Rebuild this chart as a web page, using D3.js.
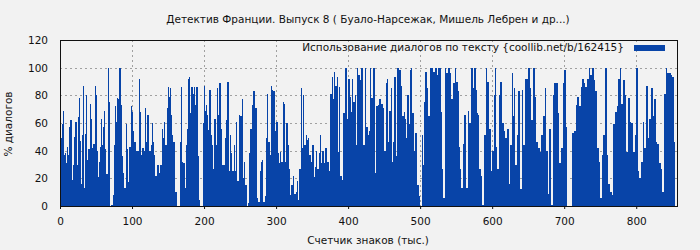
<!DOCTYPE html>
<html>
<head>
<meta charset="utf-8">
<script src="https://cdn.jsdelivr.net/npm/d3@7/dist/d3.min.js"></script>
<style>
  body { margin: 0; background: #f2f2f2; }
  text { font-family: "DejaVu Sans", sans-serif; fill: #111; }
</style>
</head>
<body>
<div id="chart"></div>
<script>
// labels
var chartTitle = "Детектив Франции. Выпуск 8 ( Буало-Нарсежак, Мишель Лебрен и др...)";
var seriesName = "Использование диалогов по тексту {coollib.net/b/162415}";
var xTitle = "Счетчик знаков (тыс.)";
var yTitle = "% диалогов";

// tick labels
var xTicks = [0, 100, 200, 300, 400, 500, 600, 700, 800];
var yTicks = [0, 20, 40, 60, 80, 100, 120];

// share of dialogue per thousand characters
var dialogShare = [
  40,40,49,59,69,69,37,38,38,31,43,37,37,57,62,62,51,19,30,30,50,61,61,41,30,
  64,64,78,47,16,16,51,87,87,13,52,80,80,33,41,41,50,74,63,63,42,45,45,80,87,
  80,80,40,21,32,32,43,63,63,44,57,69,69,41,23,23,67,100,75,75,0,1,1,7,8,
  44,44,72,61,78,78,77,100,100,88,73,36,36,24,13,13,29,59,41,41,17,43,43,43,72,
  68,68,54,46,46,46,40,40,40,72,92,68,68,37,42,42,46,40,71,71,46,66,66,27,40,
  40,40,44,60,46,46,37,22,22,8,30,30,30,24,30,30,33,56,49,49,61,44,44,62,71,
  86,86,79,85,66,66,51,46,46,44,10,10,10,0,0,0,18,46,86,86,32,31,31,18,13,
  44,44,56,92,93,93,67,86,86,67,81,86,86,73,86,86,67,36,4,4,0,0,0,1,60,
  87,87,69,73,66,66,55,84,84,87,51,44,44,27,63,63,51,44,85,85,66,89,89,28,56,
  30,30,49,30,49,49,62,90,90,63,25,51,51,38,25,25,61,44,25,25,61,18,18,39,66,
  65,65,71,77,20,20,32,15,15,2,0,2,2,38,56,56,74,73,83,83,83,71,71,30,6,
  3,3,20,25,32,32,33,3,3,7,7,49,49,81,46,46,43,37,87,87,84,83,83,54,54,
  61,61,39,38,31,31,39,32,32,54,75,74,74,32,60,60,75,44,27,27,8,15,15,28,22,
  9,9,1,10,18,18,4,27,27,22,85,42,42,80,44,44,48,51,48,48,49,37,37,45,32,
  44,44,49,21,28,28,40,27,27,89,38,51,51,31,40,40,27,31,42,42,43,32,32,39,25,
  81,81,21,93,77,77,97,87,87,80,93,39,39,86,22,22,43,19,67,67,77,100,100,72,63,
  92,92,100,79,68,68,92,75,75,63,80,44,44,100,95,95,100,91,100,100,83,44,44,78,100,
  57,57,79,51,54,54,100,78,78,16,100,100,100,24,72,72,46,73,77,77,79,74,74,54,71,
  40,40,42,89,92,92,46,69,69,100,85,32,32,46,93,93,55,36,100,100,65,98,98,100,87,
  65,65,20,68,63,63,49,80,80,43,59,98,98,100,67,67,72,40,53,53,21,15,15,18,7,
  0,0,20,51,30,30,75,97,97,100,85,65,65,30,100,100,68,100,97,97,68,100,100,91,95,
  100,100,100,100,68,68,27,6,6,25,100,96,96,100,100,100,90,96,77,77,86,89,89,92,100,
  90,90,75,83,43,43,27,13,13,25,45,66,66,37,13,13,10,69,60,60,92,100,100,100,85,
  100,100,93,84,67,67,66,27,27,56,22,1,1,27,51,51,79,100,90,90,72,56,56,42,25,
  40,40,51,80,100,100,43,27,27,59,80,90,90,62,60,60,75,54,49,49,24,56,56,27,16,
  44,44,59,96,65,65,85,30,30,93,51,83,83,46,12,12,66,84,44,44,50,92,92,100,92,
  100,100,77,85,62,62,37,100,100,93,79,46,46,54,42,42,57,39,51,51,40,65,65,40,85,
  40,40,27,9,56,56,1,1,1,1,80,89,89,27,89,89,55,67,31,31,60,42,42,87,89,
  98,98,79,57,0,0,0,0,0,0,0,53,53,63,54,54,62,73,79,79,67,72,72,69,86,
  92,92,78,89,86,86,74,92,92,80,100,95,95,100,100,100,97,91,83,83,61,42,42,49,32,
  6,6,16,37,51,51,100,100,100,46,37,16,16,4,10,10,39,8,59,59,67,68,68,90,72,
  92,92,80,100,74,74,51,91,91,51,80,39,39,39,78,78,68,61,60,60,56,39,39,51,81,
  100,100,67,25,20,20,4,32,32,42,61,42,42,62,87,87,39,49,63,63,87,85,85,65,42,
  77,77,74,46,45,45,32,31,31,13,27,10,10,46,81,81,100,100,96,96,100,96,96,95,95,
  93,93,90,46
];

var visualize = function() {
  var barColor = "#0844a8";
  var fontSize = "10.5px";

  // boilerplate setup
  var margin = { top: 40, right: 22, bottom: 44, left: 60 },
     width = 700 - margin.left - margin.right,
     height = 250 - margin.top - margin.bottom;

  var svg = d3.select("#chart")
    .append("svg")
    .attr("width", 700)
    .attr("height", 250)
    .style("display", "block");

  svg.append("rect")
    .attr("width", 700).attr("height", 250)
    .attr("fill", "#f2f2f2");

  var g = svg.append("g")
    .attr("transform", "translate(" + margin.left + "," + margin.top + ")");

  var x = d3.scaleLinear().domain([0, 858]).range([0, width]);
  var y = d3.scaleLinear().domain([0, 120]).range([height, 0]);

  // dashed grid
  g.append("g").selectAll("line.gx")
    .data(xTicks.slice(1))
    .enter().append("line")
    .attr("x1", function(d) { return Math.round(x(d)) + 0.5; })
    .attr("x2", function(d) { return Math.round(x(d)) + 0.5; })
    .attr("y1", 0).attr("y2", height)
    .attr("stroke", "#a0a0a0")
    .attr("stroke-dasharray", "2,3");

  g.append("g").selectAll("line.gy")
    .data(yTicks.slice(1, -1))
    .enter().append("line")
    .attr("x1", 0).attr("x2", width)
    .attr("y1", function(d) { return Math.round(y(d)) + 0.5; })
    .attr("y2", function(d) { return Math.round(y(d)) + 0.5; })
    .attr("stroke", "#a0a0a0")
    .attr("stroke-dasharray", "2,3");

  // bars, one per thousand characters
  g.append("g")
    .attr("shape-rendering", "crispEdges")
    .selectAll("rect")
    .data(dialogShare)
    .enter().append("rect")
    .attr("x", function(d, i) { return x(i); })
    .attr("width", function(d, i) { return x(i + 1) - x(i); })
    .attr("y", function(d) { return y(d); })
    .attr("height", function(d) { return y(0) - y(d); })
    .attr("fill", barColor);

  // axes
  var xAxis = g.append("g")
    .attr("transform", "translate(0," + height + ")")
    .call(d3.axisBottom(x).tickValues(xTicks).tickSize(3).tickPadding(9));
  var yAxis = g.append("g")
    .call(d3.axisLeft(y).tickValues(yTicks).tickSize(0).tickPadding(12));
  [xAxis, yAxis].forEach(function(a) {
    a.select(".domain").remove();
    a.selectAll("text").style("font-size", fontSize).attr("fill", "#111");
    a.selectAll("line").attr("stroke", "#111");
  });

  // frame
  g.append("rect")
    .attr("x", 0.5).attr("y", 0.5)
    .attr("width", width - 1).attr("height", height)
    .attr("fill", "none")
    .attr("stroke", "#111");

  // legend
  g.append("text")
    .attr("x", 564).attr("y", 11)
    .attr("text-anchor", "end")
    .style("font-size", fontSize)
    .text(seriesName);
  g.append("rect")
    .attr("x", 574).attr("y", 5)
    .attr("width", 31).attr("height", 6)
    .attr("fill", barColor);

  // titles
  svg.append("text")
    .attr("x", 368).attr("y", 23)
    .attr("text-anchor", "middle")
    .style("font-size", fontSize)
    .text(chartTitle);

  svg.append("text")
    .attr("x", 368).attr("y", 244)
    .attr("text-anchor", "middle")
    .style("font-size", fontSize)
    .text(xTitle);

  svg.append("text")
    .attr("transform", "translate(12,124) rotate(-90)")
    .attr("text-anchor", "middle")
    .style("font-size", fontSize)
    .text(yTitle);
}

visualize();
</script>
</body>
</html>
